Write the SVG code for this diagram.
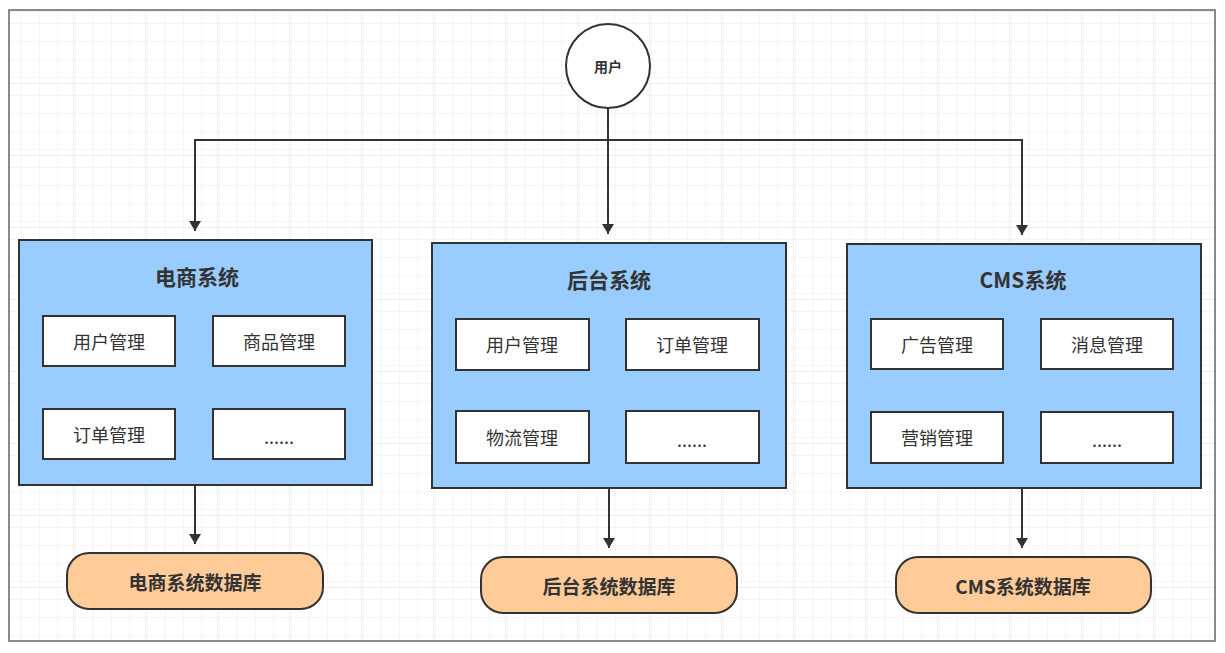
<svg xmlns="http://www.w3.org/2000/svg" width="1225" height="653" viewBox="0 0 1225 653">
<defs>
<pattern id="minor" width="18" height="18" patternUnits="userSpaceOnUse" x="2" y="12">
<path d="M18 0V18M0 18H18" fill="none" stroke="#ececec" stroke-width="1"/>
</pattern>
<pattern id="major" width="72" height="72" patternUnits="userSpaceOnUse" x="2" y="12">
<rect width="72" height="72" fill="url(#minor)"/>
<path d="M72 0V72M0 72H72" fill="none" stroke="#dedede" stroke-width="1"/>
</pattern>
<marker id="arr" viewBox="0 0 10 12" refX="10" refY="6" markerWidth="11" markerHeight="12" markerUnits="userSpaceOnUse" orient="auto">
<path d="M0 0L10 6L0 12Z" fill="#333"/>
</marker>
<style>
.panel{fill:#99CCFF;stroke:#333;stroke-width:2}
.box{fill:#fff;stroke:#333;stroke-width:2}
.db{fill:#FFCC99;stroke:#333;stroke-width:2}
.title{font-family:"Noto Sans CJK SC","Liberation Sans",sans-serif;font-weight:bold;font-size:21px;fill:#333;text-anchor:middle;dominant-baseline:central}
.lbl{font-family:"Noto Sans CJK SC","Liberation Sans",sans-serif;font-size:18px;fill:#333;text-anchor:middle;dominant-baseline:central}
.dbt{font-family:"Noto Sans CJK SC","Liberation Sans",sans-serif;font-weight:bold;font-size:19px;fill:#333;text-anchor:middle;dominant-baseline:central}
.con{fill:none;stroke:#333;stroke-width:2}
</style>
</defs>
<rect width="1225" height="653" fill="#fff"/>
<rect x="9" y="10" width="1206" height="631" fill="url(#major)" stroke="#8a8a8a" stroke-width="2"/>

<g id="connectors">
<path class="con" d="M608 108V140H195V231" marker-end="url(#arr)"/>
<path class="con" d="M608 140V234" marker-end="url(#arr)"/>
<path class="con" d="M608 140H1022V235" marker-end="url(#arr)"/>
<path class="con" d="M195 485V544" marker-end="url(#arr)"/>
<path class="con" d="M609 488V548" marker-end="url(#arr)"/>
<path class="con" d="M1022 488V548" marker-end="url(#arr)"/>
</g>

<g id="user">
<circle cx="608" cy="66" r="42" fill="#fff" stroke="#333" stroke-width="2"/>
<text class="lbl" x="608" y="66" style="font-size:14px;font-weight:bold">用户</text>
</g>

<g id="ecommerce">
<rect class="panel" x="19" y="240" width="353" height="245"/>
<text class="title" x="197" y="276">电商系统</text>
<rect class="box" x="43" y="316" width="132" height="50"/>
<text class="lbl" x="109" y="341">用户管理</text>
<rect class="box" x="213" y="316" width="132" height="50"/>
<text class="lbl" x="279" y="341">商品管理</text>
<rect class="box" x="43" y="409" width="132" height="50"/>
<text class="lbl" x="109" y="434">订单管理</text>
<rect class="box" x="213" y="409" width="132" height="50"/>
<text class="lbl" x="279" y="436">......</text>
</g>

<g id="backend">
<rect class="panel" x="432" y="243" width="354" height="245"/>
<text class="title" x="609" y="279">后台系统</text>
<rect class="box" x="456" y="319" width="133" height="51"/>
<text class="lbl" x="522" y="344">用户管理</text>
<rect class="box" x="626" y="319" width="133" height="51"/>
<text class="lbl" x="692" y="344">订单管理</text>
<rect class="box" x="456" y="411" width="133" height="52"/>
<text class="lbl" x="522" y="437">物流管理</text>
<rect class="box" x="626" y="411" width="133" height="52"/>
<text class="lbl" x="692" y="439">......</text>
</g>

<g id="cms">
<rect class="panel" x="847" y="244" width="354" height="244"/>
<text class="title" x="1023" y="279">CMS系统</text>
<rect class="box" x="871" y="319" width="132" height="50"/>
<text class="lbl" x="937" y="344">广告管理</text>
<rect class="box" x="1041" y="319" width="132" height="50"/>
<text class="lbl" x="1107" y="344">消息管理</text>
<rect class="box" x="871" y="412" width="132" height="51"/>
<text class="lbl" x="937" y="437">营销管理</text>
<rect class="box" x="1041" y="412" width="132" height="51"/>
<text class="lbl" x="1107" y="439">......</text>
</g>

<g id="db-ecommerce">
<rect class="db" x="67" y="553" width="256" height="56" rx="22" ry="22"/>
<text class="dbt" x="195" y="581">电商系统数据库</text>
</g>
<g id="db-backend">
<rect class="db" x="481" y="557" width="256" height="56" rx="22" ry="22"/>
<text class="dbt" x="609" y="585">后台系统数据库</text>
</g>
<g id="db-cms">
<rect class="db" x="896" y="557" width="255" height="56" rx="22" ry="22"/>
<text class="dbt" x="1023" y="585">CMS系统数据库</text>
</g>
</svg>
